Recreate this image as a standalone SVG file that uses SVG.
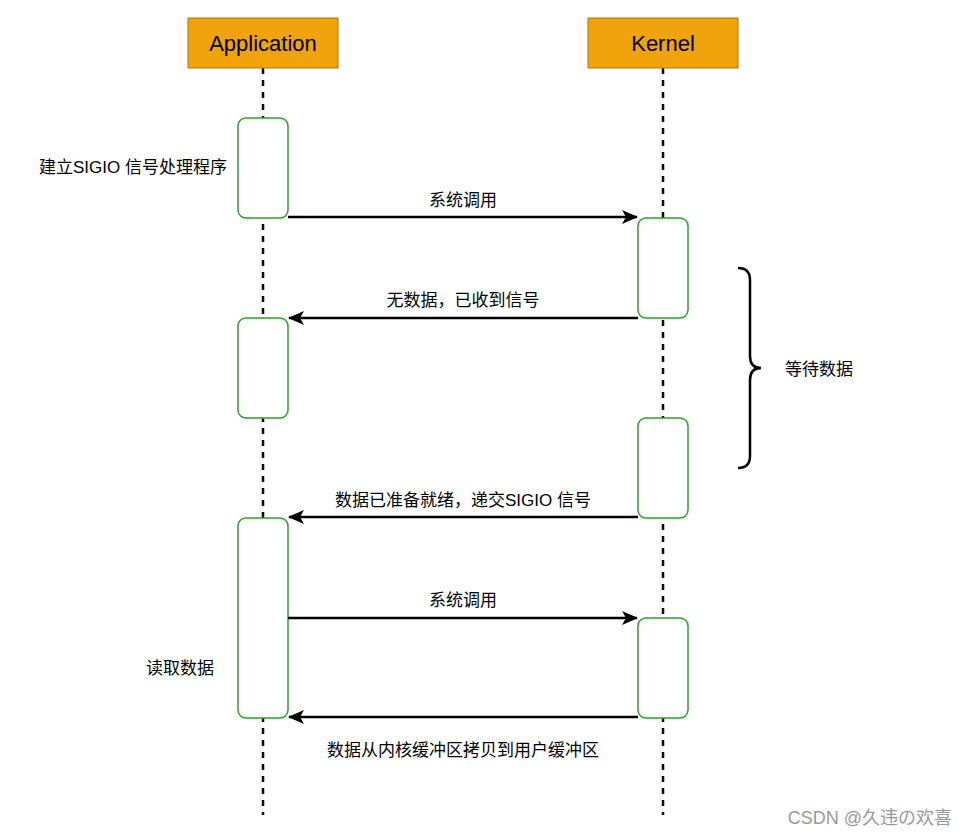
<svg xmlns="http://www.w3.org/2000/svg" width="967" height="837" viewBox="0 0 967 837">
<style>
.hdr{fill:#f0a30a;stroke:#BD7000;stroke-width:1}
.hdrt{font-family:"Liberation Sans",Arial,sans-serif;font-size:22px;fill:#000;text-anchor:middle;dominant-baseline:central}
.life{stroke:#000;stroke-width:2.5;stroke-dasharray:6 6;fill:none}
.act{fill:#fff;stroke:#2CA02C;stroke-width:1.5}
.msg{stroke:#000;stroke-width:2.5;fill:none;marker-end:url(#ah)}
.lbl{font-family:"Liberation Sans","Noto Sans CJK SC",sans-serif;font-size:17px;fill:#000;text-anchor:middle;dominant-baseline:central}
.wm{font-family:"Liberation Sans","Noto Sans CJK SC",sans-serif;font-size:18px;fill:#999;text-anchor:end;dominant-baseline:central}
</style>
<defs>
<marker id="ah" viewBox="0 0 16 14" refX="15" refY="7" markerWidth="16" markerHeight="14" markerUnits="userSpaceOnUse" orient="auto">
<path d="M0,0 L16,7 L0,14 L4,7 Z" fill="#000"/>
</marker>
</defs>
<rect width="967" height="837" fill="#fff"/>
<g id="lifelines">
<line class="life" x1="263" y1="68" x2="263" y2="815"/>
<line class="life" x1="663" y1="68" x2="663" y2="815"/>
</g>
<g id="application">
<rect class="hdr" x="188" y="18" width="150" height="50"/>
<text class="hdrt" x="263" y="43">Application</text>
</g>
<g id="kernel">
<rect class="hdr" x="588" y="18" width="150" height="50"/>
<text class="hdrt" x="663" y="43">Kernel</text>
</g>
<g id="app-act1"><rect class="act" x="238" y="118" width="50" height="100" rx="8"/></g>
<g id="app-act2"><rect class="act" x="238" y="318" width="50" height="100" rx="8"/></g>
<g id="app-act3"><rect class="act" x="238" y="518" width="50" height="200" rx="8"/></g>
<g id="k-act1"><rect class="act" x="638" y="218" width="50" height="100" rx="8"/></g>
<g id="k-act2"><rect class="act" x="638" y="418" width="50" height="100" rx="8"/></g>
<g id="k-act3"><rect class="act" x="638" y="618" width="50" height="100" rx="8"/></g>
<g id="connectors">
<line class="msg" x1="288" y1="217" x2="637" y2="217"/>
<line class="msg" x1="638" y1="318" x2="289" y2="318"/>
<line class="msg" x1="638" y1="517" x2="289" y2="517"/>
<line class="msg" x1="288" y1="618" x2="637" y2="618"/>
<line class="msg" x1="638" y1="717" x2="289" y2="717"/>
</g>
<g id="labels">
<text class="lbl" x="463" y="200">系统调用</text>
<text class="lbl" x="463" y="300">无数据，已收到信号</text>
<text class="lbl" x="463" y="500">数据已准备就绪，递交SIGIO 信号</text>
<text class="lbl" x="463" y="600">系统调用</text>
<text class="lbl" x="463" y="750">数据从内核缓冲区拷贝到用户缓冲区</text>
<text class="lbl" x="133" y="167">建立SIGIO 信号处理程序</text>
<text class="lbl" x="180" y="668">读取数据</text>
</g>
<g id="brace">
<path d="M738,268 Q750,268 750,280 V356 Q750,368 761,368 Q750,368 750,380 V456 Q750,468 738,468" fill="none" stroke="#000" stroke-width="2.5"/>
<text class="lbl" x="819" y="369">等待数据</text>
</g>
<text class="wm" x="952" y="818">CSDN @久违の欢喜</text>
</svg>
